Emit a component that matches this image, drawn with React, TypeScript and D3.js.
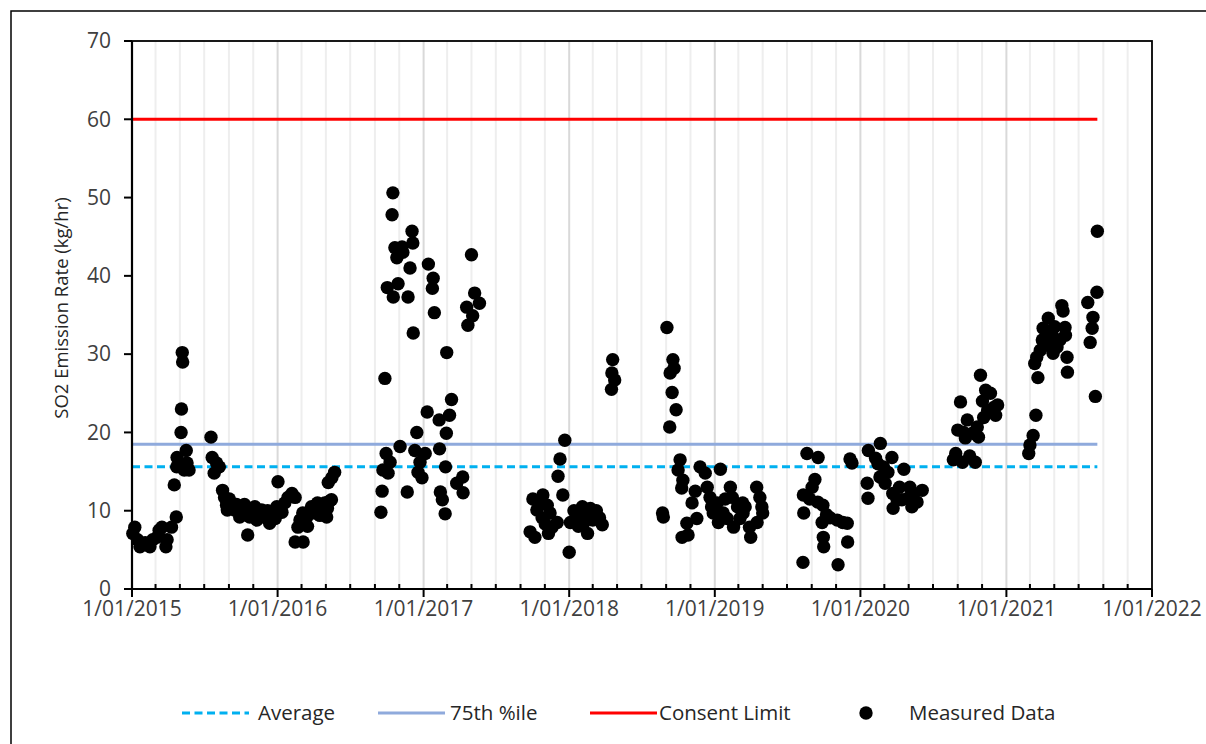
import React from "react";
import * as d3 from "d3";

// Measured SO2 emission rates (kg/hr), grouped by sampling campaign
const campaign2015a: [string, number][] = [
  ["2015-01-03", 7.1], ["2015-01-08", 7.9], ["2015-01-15", 6.3], ["2015-01-21", 5.4],
  ["2015-02-03", 5.9], ["2015-02-15", 5.4], ["2015-02-22", 6.3], ["2015-03-05", 6.6],
  ["2015-03-10", 7.5], ["2015-03-17", 7.9], ["2015-03-27", 5.4], ["2015-03-30", 6.3],
  ["2015-04-10", 7.9], ["2015-04-17", 13.3], ["2015-04-22", 9.2], ["2015-04-23", 15.6],
  ["2015-04-24", 16.8], ["2015-05-04", 20.0], ["2015-05-05", 23.0], ["2015-05-07", 30.2],
  ["2015-05-08", 29.0], ["2015-05-12", 15.2], ["2015-05-17", 17.7], ["2015-05-19", 16.1],
  ["2015-05-24", 15.2],
];

const campaign2015b: [string, number][] = [
  ["2015-07-18", 19.4], ["2015-07-21", 16.8], ["2015-07-26", 14.8], ["2015-08-01", 16.1],
  ["2015-08-08", 15.6], ["2015-08-16", 12.6], ["2015-08-21", 11.7], ["2015-08-26", 10.7],
  ["2015-08-28", 10.1], ["2015-09-02", 11.5], ["2015-09-08", 11.0], ["2015-09-15", 10.1],
  ["2015-09-20", 10.8], ["2015-09-28", 9.2], ["2015-10-03", 10.5], ["2015-10-10", 10.8],
  ["2015-10-15", 9.8], ["2015-10-18", 6.9], ["2015-10-23", 9.2], ["2015-10-31", 9.8],
  ["2015-11-05", 10.5], ["2015-11-10", 8.8], ["2015-11-17", 9.5], ["2015-11-22", 10.1],
  ["2015-11-30", 9.2], ["2015-12-07", 10.0], ["2015-12-12", 8.4], ["2015-12-17", 9.7],
  ["2015-12-26", 9.0], ["2015-12-30", 10.5], ["2016-01-02", 13.7], ["2016-01-12", 9.8],
  ["2016-01-19", 11.0], ["2016-01-27", 11.7], ["2016-02-06", 12.2], ["2016-02-14", 11.7],
];

const campaign2016a: [string, number][] = [
  ["2016-02-14", 6.0], ["2016-02-21", 7.9], ["2016-02-26", 8.8], ["2016-03-04", 9.7],
  ["2016-03-05", 6.0], ["2016-03-14", 9.2], ["2016-03-16", 8.0], ["2016-03-26", 10.5],
  ["2016-04-03", 9.7], ["2016-04-10", 11.0], ["2016-04-16", 9.4], ["2016-04-21", 10.5],
  ["2016-04-28", 11.0], ["2016-05-03", 9.2], ["2016-05-05", 10.3], ["2016-05-07", 13.6],
  ["2016-05-10", 11.2], ["2016-05-15", 11.4], ["2016-05-16", 14.2], ["2016-05-23", 14.9],
];

const campaign2016b: [string, number][] = [
  ["2016-09-16", 9.8], ["2016-09-19", 12.5], ["2016-09-21", 15.2], ["2016-09-26", 26.9],
  ["2016-09-29", 17.3], ["2016-10-02", 38.5], ["2016-10-04", 14.8], ["2016-10-09", 16.2],
  ["2016-10-14", 47.8], ["2016-10-16", 50.6], ["2016-10-17", 37.3], ["2016-10-21", 43.6],
  ["2016-10-26", 42.3], ["2016-10-29", 39.0], ["2016-11-03", 18.2], ["2016-11-08", 43.7],
  ["2016-11-10", 43.0], ["2016-11-21", 12.4], ["2016-11-23", 37.3], ["2016-11-28", 41.0],
  ["2016-12-03", 45.7], ["2016-12-05", 44.2], ["2016-12-06", 32.7], ["2016-12-10", 17.7],
  ["2016-12-15", 20.0], ["2016-12-18", 14.9], ["2016-12-23", 16.2], ["2016-12-28", 14.2],
  ["2017-01-05", 17.3], ["2017-01-10", 22.6], ["2017-01-13", 41.5], ["2017-01-23", 38.4],
  ["2017-01-25", 39.7], ["2017-01-28", 35.3], ["2017-02-09", 21.6], ["2017-02-10", 17.9],
  ["2017-02-12", 12.4], ["2017-02-17", 11.4], ["2017-02-24", 9.6], ["2017-02-25", 15.6],
  ["2017-02-27", 19.9], ["2017-02-28", 30.2], ["2017-03-07", 22.2], ["2017-03-12", 24.2],
  ["2017-03-25", 13.5], ["2017-04-09", 14.3], ["2017-04-10", 12.3], ["2017-04-19", 36.0],
  ["2017-04-22", 33.7], ["2017-05-01", 42.7], ["2017-05-04", 34.9], ["2017-05-09", 37.8],
  ["2017-05-21", 36.5],
];

const campaign2017: [string, number][] = [
  ["2017-09-25", 7.3], ["2017-10-02", 11.5], ["2017-10-07", 6.6], ["2017-10-12", 10.1],
  ["2017-10-20", 11.0], ["2017-10-25", 9.1], ["2017-10-27", 12.0], ["2017-11-02", 8.3],
  ["2017-11-07", 10.7], ["2017-11-10", 7.1], ["2017-11-14", 9.7], ["2017-11-19", 7.9],
  ["2017-12-02", 8.5], ["2017-12-04", 14.4], ["2017-12-09", 16.6], ["2017-12-16", 12.0],
  ["2017-12-21", 19.0], ["2018-01-01", 4.7], ["2018-01-04", 8.5], ["2018-01-13", 10.0],
  ["2018-01-21", 9.4], ["2018-01-24", 8.0], ["2018-02-03", 10.5], ["2018-02-06", 8.4],
  ["2018-02-10", 9.8], ["2018-02-16", 7.1], ["2018-02-23", 10.3], ["2018-03-01", 8.8],
  ["2018-03-10", 10.0], ["2018-03-18", 9.1], ["2018-03-25", 8.2],
  ["2018-04-17", 25.5], ["2018-04-18", 27.6], ["2018-04-20", 29.3], ["2018-04-25", 26.7],
];

const campaign2018: [string, number][] = [
  ["2018-08-23", 9.7], ["2018-08-25", 9.2], ["2018-09-03", 33.4], ["2018-09-10", 20.7],
  ["2018-09-11", 27.6], ["2018-09-16", 25.1], ["2018-09-18", 29.3], ["2018-09-21", 28.2],
  ["2018-09-26", 22.9], ["2018-10-01", 15.2], ["2018-10-06", 16.5], ["2018-10-10", 12.9],
  ["2018-10-11", 6.6], ["2018-10-13", 13.9], ["2018-10-23", 8.4], ["2018-10-26", 6.9],
  ["2018-11-05", 11.0], ["2018-11-13", 12.5], ["2018-11-17", 9.0], ["2018-11-25", 15.6],
  ["2018-12-08", 14.8], ["2018-12-13", 13.0], ["2018-12-20", 11.7], ["2018-12-24", 10.5],
  ["2018-12-28", 9.7], ["2019-01-07", 11.0], ["2019-01-10", 8.5], ["2019-01-15", 15.3],
  ["2019-01-22", 9.7], ["2019-01-27", 11.5], ["2019-02-01", 9.0], ["2019-02-09", 13.0],
  ["2019-02-14", 11.7], ["2019-02-17", 7.9], ["2019-02-27", 10.5], ["2019-03-05", 9.0],
  ["2019-03-12", 11.0], ["2019-03-13", 9.7], ["2019-03-18", 10.5], ["2019-03-29", 7.9],
  ["2019-04-01", 6.6], ["2019-04-16", 13.0], ["2019-04-17", 8.5], ["2019-04-24", 11.7],
  ["2019-04-29", 10.5], ["2019-05-01", 9.7],
];

const campaign2019: [string, number][] = [
  ["2019-08-10", 3.4], ["2019-08-11", 12.0], ["2019-08-12", 9.7], ["2019-08-20", 17.3],
  ["2019-08-27", 11.5], ["2019-09-02", 13.0], ["2019-09-09", 14.0], ["2019-09-16", 11.1],
  ["2019-09-17", 16.8], ["2019-09-27", 8.5], ["2019-09-29", 10.7], ["2019-09-30", 6.6],
  ["2019-10-01", 5.4], ["2019-10-08", 9.5], ["2019-10-17", 9.1], ["2019-11-04", 8.8],
  ["2019-11-06", 3.1], ["2019-11-18", 8.5], ["2019-11-29", 8.4], ["2019-11-30", 6.0],
  ["2019-12-06", 16.6], ["2019-12-11", 16.1],
  ["2020-01-18", 13.5], ["2020-01-20", 11.6], ["2020-01-21", 17.7], ["2020-02-08", 16.7],
  ["2020-02-14", 16.0], ["2020-02-19", 14.3], ["2020-02-20", 18.6], ["2020-02-28", 15.6],
  ["2020-03-03", 13.5], ["2020-03-10", 14.9], ["2020-03-20", 16.8], ["2020-03-22", 12.2],
  ["2020-03-23", 10.3], ["2020-04-02", 11.4], ["2020-04-08", 13.0], ["2020-04-14", 11.4],
  ["2020-04-19", 15.3], ["2020-04-29", 11.6], ["2020-05-04", 13.0], ["2020-05-09", 10.5],
  ["2020-05-12", 12.2], ["2020-05-22", 11.1], ["2020-06-04", 12.6],
];

const campaign2020: [string, number][] = [
  ["2020-08-21", 16.5], ["2020-08-27", 17.3], ["2020-09-01", 20.3], ["2020-09-08", 23.9],
  ["2020-09-13", 16.2], ["2020-09-16", 20.0], ["2020-09-20", 19.3], ["2020-09-25", 21.6],
  ["2020-10-01", 17.0], ["2020-10-08", 19.9], ["2020-10-15", 16.2], ["2020-10-20", 20.7],
  ["2020-10-23", 19.4], ["2020-10-28", 27.3], ["2020-11-02", 24.0], ["2020-11-05", 21.9],
  ["2020-11-10", 25.4], ["2020-11-15", 22.8], ["2020-11-22", 25.0], ["2020-11-30", 23.2],
  ["2020-12-05", 22.2], ["2020-12-10", 23.5],
];

const campaign2021: [string, number][] = [
  ["2021-02-26", 17.3], ["2021-03-01", 18.4], ["2021-03-09", 19.6], ["2021-03-13", 28.8],
  ["2021-03-16", 22.2], ["2021-03-18", 29.6], ["2021-03-21", 27.0], ["2021-03-27", 30.5],
  ["2021-04-01", 31.8], ["2021-04-03", 33.3], ["2021-04-08", 32.0], ["2021-04-16", 34.6],
  ["2021-04-21", 31.0], ["2021-04-26", 32.4], ["2021-04-28", 30.1], ["2021-05-02", 33.5],
  ["2021-05-08", 30.9], ["2021-05-15", 31.8], ["2021-05-20", 36.2], ["2021-05-23", 35.5],
  ["2021-05-28", 33.4], ["2021-05-29", 32.4], ["2021-06-02", 29.6], ["2021-06-03", 27.7],
  ["2021-07-24", 36.6], ["2021-07-30", 31.5], ["2021-08-04", 33.3], ["2021-08-06", 34.7],
  ["2021-08-12", 24.6], ["2021-08-16", 37.9], ["2021-08-17", 45.7],
];

const campaigns = [
  campaign2015a, campaign2015b, campaign2016a, campaign2016b, campaign2017,
  campaign2018, campaign2019, campaign2020, campaign2021,
];

// Reference levels (kg/hr)
const averageRate = 15.6;
const percentile75Rate = 18.5;
const consentLimit = 60;

const yTicks = [0, 10, 20, 30, 40, 50, 60, 70];
const xTickYears = [2015, 2016, 2017, 2018, 2019, 2020, 2021, 2022];

const legendItems = [
  { label: "Average", kind: "dash", color: "#00B0F0" },
  { label: "75th %ile", kind: "line", color: "#8FAADC" },
  { label: "Consent Limit", kind: "line", color: "#FF0000" },
  { label: "Measured Data", kind: "dot", color: "#000000" },
];

const FONT = "'Open Sans', 'Noto Sans', sans-serif";

export default function App() {
  const W = 1206;
  const H = 744;
  const plot = { left: 132, right: 1152, top: 41, bottom: 589 };

  const parse = d3.timeParse("%Y-%m-%d");
  const x = d3
    .scaleTime()
    .domain([new Date(2015, 0, 1), new Date(2022, 0, 1)])
    .range([plot.left, plot.right]);
  const y = d3.scaleLinear().domain([0, 70]).range([plot.bottom, plot.top]);

  const points = campaigns.flat().map(([d, v]) => ({ date: parse(d) as Date, value: v }));
  const lastDate = d3.max(points, (p) => p.date) as Date;
  const lineStart = new Date(2015, 0, 1);

  const minorTicks = d3.timeMonth
    .every(2)!
    .range(new Date(2015, 0, 1), new Date(2022, 0, 2))
    .filter((d) => d.getMonth() !== 0);
  const majorTicks = xTickYears.map((yr) => new Date(yr, 0, 1));

  const refLine = d3
    .line<[Date, number]>()
    .x((d) => x(d[0]))
    .y((d) => y(d[1]));

  const legendX = [182, 378, 590, 866];
  const legendTextX = [258, 450, 659, 909];
  const legendY = 713;

  return (
    <svg
      width={W}
      height={H}
      style={{ position: "absolute", left: 0, top: 0, background: "#fff" }}
      fontFamily={FONT}
    >
      <rect x={0} y={0} width={W} height={H} fill="#fff" />
      {/* chart frame */}
      <rect x={11} y={11} width={W + 10} height={H + 10} fill="none" stroke="#000" strokeWidth={1.5} />

      {/* vertical gridlines */}
      {minorTicks.map((d, i) => (
        <line key={"mg" + i} x1={x(d)} x2={x(d)} y1={plot.top} y2={plot.bottom} stroke="#EEEEEE" strokeWidth={2} />
      ))}
      {majorTicks.slice(1, -1).map((d, i) => (
        <line key={"Mg" + i} x1={x(d)} x2={x(d)} y1={plot.top} y2={plot.bottom} stroke="#D9D9D9" strokeWidth={2} />
      ))}

      {/* plot border */}
      <rect
        x={plot.left}
        y={plot.top}
        width={plot.right - plot.left}
        height={plot.bottom - plot.top}
        fill="none"
        stroke="#000"
        strokeWidth={1.8}
      />

      {/* reference lines */}
      <path
        d={refLine([[lineStart, averageRate], [lastDate, averageRate]]) || ""}
        stroke="#00B0F0"
        strokeWidth={3}
        strokeDasharray="8 4.5"
        fill="none"
      />
      <path
        d={refLine([[lineStart, percentile75Rate], [lastDate, percentile75Rate]]) || ""}
        stroke="#8FAADC"
        strokeWidth={3}
        fill="none"
      />
      <path
        d={refLine([[lineStart, consentLimit], [lastDate, consentLimit]]) || ""}
        stroke="#FF0000"
        strokeWidth={3}
        fill="none"
      />

      {/* measured data */}
      {points.map((p, i) => (
        <circle key={"p" + i} cx={x(p.date)} cy={y(p.value)} r={6.7} fill="#000" />
      ))}

      {/* axes */}
      <line x1={plot.left} x2={plot.left} y1={plot.top} y2={plot.bottom} stroke="#000" strokeWidth={2.2} />
      <line x1={plot.left - 1} x2={plot.right} y1={plot.bottom} y2={plot.bottom} stroke="#000" strokeWidth={2.2} />
      {yTicks.map((t) => (
        <g key={"yt" + t}>
          <line x1={plot.left - 8} x2={plot.left} y1={y(t)} y2={y(t)} stroke="#000" strokeWidth={2} />
          <text x={111} y={y(t)} dy="0.35em" textAnchor="end" fontSize={21} fill="#404040">
            {t}
          </text>
        </g>
      ))}
      {minorTicks.map((d, i) => (
        <line key={"mt" + i} x1={x(d)} x2={x(d)} y1={plot.bottom - 5} y2={plot.bottom} stroke="#000" strokeWidth={2} />
      ))}
      {majorTicks.map((d, i) => (
        <g key={"xt" + i}>
          <line x1={x(d)} x2={x(d)} y1={plot.bottom} y2={plot.bottom + 8} stroke="#000" strokeWidth={2} />
          <text x={x(d)} y={616} textAnchor="middle" fontSize={21} fill="#404040">
            {d3.timeFormat("%-d/%m/%Y")(d)}
          </text>
        </g>
      ))}

      <text
        transform={`translate(62, 308) rotate(-90)`}
        textAnchor="middle"
        dy="0.35em"
        fontSize={18.5}
        fill="#262626"
      >
        SO2 Emission Rate (kg/hr)
      </text>

      {/* legend */}
      {legendItems.map((item, i) => (
        <g key={"lg" + i}>
          {item.kind === "dot" ? (
            <circle cx={legendX[i]} cy={legendY} r={6.7} fill={item.color} />
          ) : (
            <line
              x1={legendX[i]}
              x2={legendX[i] + 67}
              y1={legendY}
              y2={legendY}
              stroke={item.color}
              strokeWidth={3}
              strokeDasharray={item.kind === "dash" ? "8 4.5" : undefined}
            />
          )}
          <text x={legendTextX[i]} y={legendY} dy="0.35em" fontSize={20.5} fill="#262626">
            {item.label}
          </text>
        </g>
      ))}
    </svg>
  );
}
